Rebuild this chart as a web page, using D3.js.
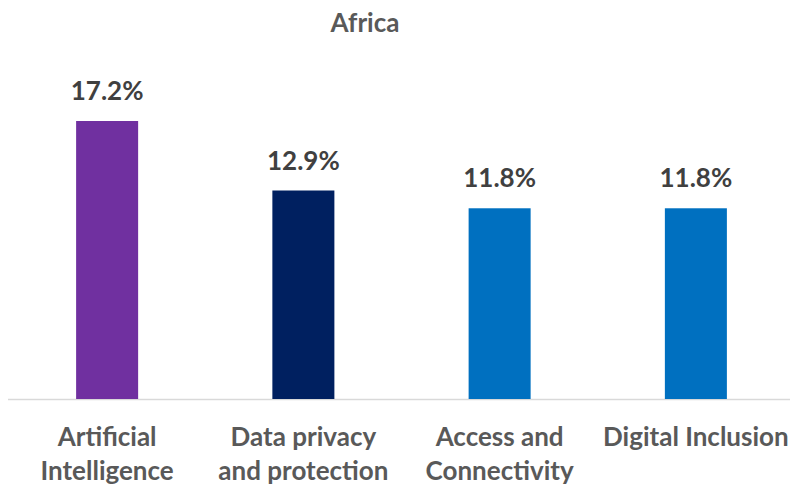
<!DOCTYPE html>
<html>
<head>
<meta charset="utf-8">
<script src="https://cdn.jsdelivr.net/npm/d3@7"></script>
<style>
  body { margin: 0; background: #fff; }
  text { font-family: Lato, "Open Sans", sans-serif; font-weight: bold; }
</style>
</head>
<body>
<svg id="chart" width="797" height="489"></svg>
<script>
var categories = [["Artificial", "Intelligence"], ["Data privacy", "and protection"], ["Access and", "Connectivity"], ["Digital Inclusion"]];
var values = [17.2, 12.9, 11.8, 11.8];
var colors = ["#7030A0", "#002060", "#0070C0", "#0070C0"];
var title = "Africa";

var svg = d3.select("#chart");
var baseline = 399;

var x = d3.scaleBand().domain(d3.range(values.length)).range([9, 794]).padding(0);
var y = d3.scaleLinear().domain([0, 17.2]).range([baseline, 121]);
var barW = x.bandwidth() * 0.316;

svg.append("text")
  .attr("x", 365).attr("y", 32)
  .attr("text-anchor", "middle")
  .attr("font-size", 26)
  .attr("fill", "#595959")
  .text(title);

svg.append("line")
  .attr("x1", 8).attr("x2", 790)
  .attr("y1", baseline + 0.5).attr("y2", baseline + 0.5)
  .style("stroke", "#d9d9d9").style("stroke-width", 1.5);

svg.selectAll("rect.bar").data(values).enter().append("rect")
  .attr("class", "bar")
  .attr("x", function(d, i) { return x(i) + x.bandwidth() / 2 - barW / 2; })
  .attr("width", barW)
  .attr("y", function(d) { return y(d); })
  .attr("height", function(d) { return baseline - y(d); })
  .style("fill", function(d, i) { return colors[i]; });

svg.selectAll("text.val").data(values).enter().append("text")
  .attr("class", "val")
  .attr("x", function(d, i) { return x(i) + x.bandwidth() / 2; })
  .attr("y", function(d) { return y(d) - 21; })
  .attr("text-anchor", "middle")
  .attr("font-size", 26)
  .attr("fill", "#404040")
  .text(function(d) { return d.toFixed(1) + "%"; });

categories.forEach(function(lines, i) {
  lines.forEach(function(line, j) {
    svg.append("text")
      .attr("x", x(i) + x.bandwidth() / 2)
      .attr("y", 446 + j * 34)
      .attr("text-anchor", "middle")
      .attr("font-size", 26)
      .attr("fill", "#595959")
      .text(line);
  });
});
</script>
</body>
</html>
